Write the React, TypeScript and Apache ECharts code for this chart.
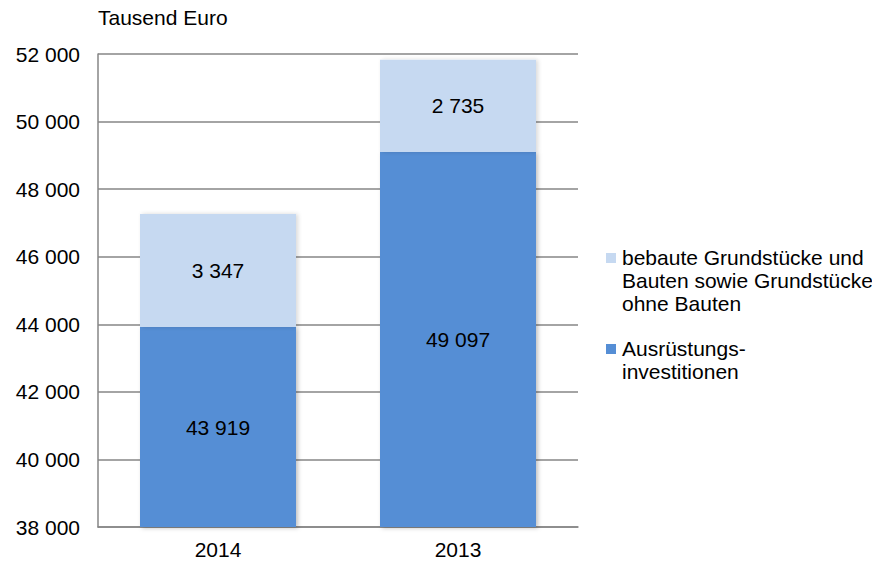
import React, { useEffect, useRef } from "react";
import * as echarts from "echarts";

const categories = ["2014", "2013"];
const ausruestung = [43919, 49097];
const bauten = [3347, 2735];
const seriesNames = [
  "Ausrüstungs-\ninvestitionen",
  "bebaute Grundstücke und\nBauten sowie Grundstücke\nohne Bauten",
];
const yMin = 38000;
const yMax = 52000;
const yStep = 2000;
const unitLabel = "Tausend Euro";

const fmt = (v: number) => String(Math.round(v)).replace(/\B(?=(\d{3})+(?!\d))/g, " ");

const DARK = "#558ed5";
const LIGHT = "#c6d9f1";
const FONT = "Liberation Sans, Arial, sans-serif";
const FS = 21;

export default function App() {
  const ref = useRef<HTMLDivElement>(null);
  useEffect(() => {
    if (!ref.current) return;
    const chart = echarts.init(ref.current, null, { renderer: "svg" });
    const labelCfg = {
      show: true,
      position: "inside" as const,
      color: "#000",
      fontSize: FS,
      fontFamily: FONT,
      formatter: (p: any) => fmt(p.value),
    };
    chart.setOption({
      animation: false,
      backgroundColor: "#fff",
      textStyle: { fontFamily: FONT },
      grid: { left: 98, right: 302, top: 54, bottom: 38, containLabel: false },
      xAxis: {
        type: "category",
        data: categories,
        axisLine: { lineStyle: { color: "#868686", width: 1.5 } },
        axisTick: { show: false },
        axisLabel: { color: "#000", fontSize: FS, fontFamily: FONT, margin: 12 },
      },
      yAxis: {
        type: "value",
        min: yMin,
        max: yMax,
        interval: yStep,
        axisLine: { show: true, lineStyle: { color: "#868686", width: 1.5 } },
        axisTick: { show: false },
        splitLine: { lineStyle: { color: "#868686", width: 1.5 } },
        axisLabel: { color: "#000", fontSize: FS, fontFamily: FONT, margin: 18, formatter: (v: number) => fmt(v) },
      },
      series: [
        {
          name: seriesNames[0],
          type: "bar",
          stack: "total",
          data: ausruestung,
          barWidth: "65%",
          itemStyle: { color: DARK, shadowColor: "rgba(0,0,0,0.25)", shadowBlur: 4, shadowOffsetX: 2, shadowOffsetY: 1 },
          label: labelCfg,
        },
        {
          name: seriesNames[1],
          type: "bar",
          stack: "total",
          data: bauten,
          barWidth: "65%",
          itemStyle: { color: LIGHT, shadowColor: "rgba(0,0,0,0.15)", shadowBlur: 4, shadowOffsetX: 2, shadowOffsetY: 0 },
          label: labelCfg,
        },
      ],
      graphic: [
        {
          type: "text",
          left: 98,
          top: 7,
          style: { text: unitLabel, fill: "#000", fontSize: FS, fontFamily: FONT },
        },
        {
          type: "rect",
          shape: { x: 606, y: 253, width: 10, height: 10 },
          style: { fill: LIGHT },
        },
        {
          type: "text",
          x: 622,
          y: 246,
          style: { text: seriesNames[1], fill: "#000", fontSize: FS, fontFamily: FONT, lineHeight: 23 },
        },
        {
          type: "rect",
          shape: { x: 606, y: 344, width: 10, height: 10 },
          style: { fill: DARK },
        },
        {
          type: "text",
          x: 622,
          y: 337,
          style: { text: seriesNames[0], fill: "#000", fontSize: FS, fontFamily: FONT, lineHeight: 23 },
        },
      ],
    });
    return () => chart.dispose();
  }, []);
  return <div ref={ref} style={{ width: 880, height: 565, margin: -8 }} />;
}
